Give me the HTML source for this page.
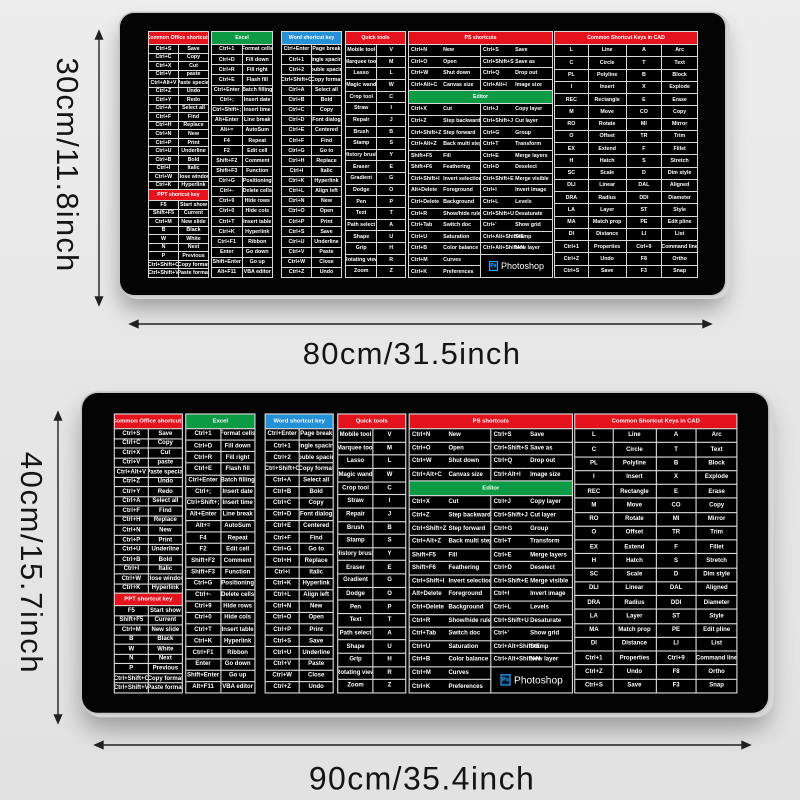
<!DOCTYPE html>
<html><head><meta charset="utf-8">
<style>
*{box-sizing:border-box}
body{margin:0;width:800px;height:800px;position:relative;overflow:hidden;background:linear-gradient(#ededed,#e6e6e6 50%,#e2e2e2);font-family:"Liberation Sans",sans-serif}
.pad{position:absolute;width:605px;height:282px;background:#040404;border-radius:14px;box-shadow:0 0 0 1.5px #c4c4c4,3px 2px 0 2px #d6d6d6,0 14px 22px rgba(0,0,0,.32)}
#p1{left:120px;top:13px}
#p2{left:82px;top:393px;transform:scale(1.134);transform-origin:0 0}
.g{position:absolute;top:18px;height:247px;display:grid;gap:1px;padding:1px;background:#d8d8d8}
.g>*{background:#000;color:#fff;font-size:5.3px;font-weight:bold;display:flex;align-items:center;justify-content:center;white-space:nowrap;overflow:hidden;line-height:1.2}
.g>.h{grid-column:1/-1;font-size:5.2px}
.g>.r{background:#e3121c}
.g>.gr{background:#0c9a45}
.g>.bl{background:#2390d8}
.g>.d{justify-content:flex-start;padding:0 2px}
.d span{display:inline-block}
.d span:first-child{width:48%;flex:none}
.s1{left:28px;width:61px;grid-template-columns:1fr 1fr;grid-template-rows:12px repeat(17,1fr) 10px repeat(9,1fr)}
.s2{left:91px;width:62px;grid-template-columns:1fr 1fr;grid-template-rows:12px repeat(23,1fr)}
.s3{left:161px;width:61px;grid-template-columns:1fr 1fr;grid-template-rows:12px repeat(23,1fr)}
.s4{left:225px;width:61px;grid-template-columns:32fr 29fr;grid-template-rows:12px repeat(20,1fr)}
.s5{left:288px;width:145px;grid-template-columns:1fr 1fr;grid-template-rows:12px repeat(4,1fr) 12px repeat(15,1fr)}
.s6{left:434px;width:144px;grid-template-columns:34fr 38fr 36fr 36fr;grid-template-rows:12px repeat(19,1fr)}
.g>.ps{grid-row:span 2;gap:3px}
.ps i{display:inline-flex;align-items:center;justify-content:center;width:9px;height:10px;border:1px solid #31a8ff;background:#001e36;color:#31a8ff;font-style:normal;font-size:5px}
.ps span{font-size:9px;font-weight:normal}
.lbl{position:absolute;color:#151515;font-size:31px;white-space:nowrap;transform:translate(-50%,-50%)}
.v{transform:translate(-50%,-50%) rotate(90deg)}
</style></head><body>

<svg width="800" height="800" style="position:absolute;left:0;top:0">
<g stroke="#222" stroke-width="1.4" fill="#222">
<line x1="136" y1="324" x2="706" y2="324"/><polygon points="130,324 138,320.5 138,327.5"/><polygon points="711,324 703,320.5 703,327.5"/>
<line x1="101" y1="745" x2="744" y2="745"/><polygon points="95,745 103,741.5 103,748.5"/><polygon points="750,745 742,741.5 742,748.5"/>
<line x1="99" y1="37" x2="99" y2="299"/><polygon points="99,31 95.5,39 102.5,39"/><polygon points="99,305 95.5,297 102.5,297"/>
<line x1="58" y1="418" x2="58" y2="717"/><polygon points="58,412 54.5,420 61.5,420"/><polygon points="58,723 54.5,715 61.5,715"/>
</g></svg>

<div class="lbl v" style="left:67px;top:165px;letter-spacing:1.2px">30cm/11.8inch</div>
<div class="lbl v" style="left:31px;top:563px;letter-spacing:1.6px">40cm/15.7inch</div>
<div class="lbl" style="left:412px;top:354px;letter-spacing:1.3px">80cm/31.5inch</div>
<div class="lbl" style="left:422px;top:779px;font-size:32px;letter-spacing:1.4px">90cm/35.4inch</div>

<div class="pad" id="p1">
<div class="g s1"><div class="h r">Common Office shortcuts</div>
<div>Ctrl+S</div><div>Save</div><div>Ctrl+C</div><div>Copy</div><div>Ctrl+X</div><div>Cut</div><div>Ctrl+V</div><div>paste</div><div>Ctrl+Alt+V</div><div>Paste special</div><div>Ctrl+Z</div><div>Undo</div><div>Ctrl+Y</div><div>Redo</div><div>Ctrl+A</div><div>Select all</div><div>Ctrl+F</div><div>Find</div><div>Ctrl+H</div><div>Replace</div><div>Ctrl+N</div><div>New</div><div>Ctrl+P</div><div>Print</div><div>Ctrl+U</div><div>Underline</div><div>Ctrl+B</div><div>Bold</div><div>Ctrl+I</div><div>Italic</div><div>Ctrl+W</div><div>Close window</div><div>Ctrl+K</div><div>Hyperlink</div>
<div class="h r">PPT shortcut key</div>
<div>F5</div><div>Start show</div><div>Shift+F5</div><div>Current</div><div>Ctrl+M</div><div>New slide</div><div>B</div><div>Black</div><div>W</div><div>White</div><div>N</div><div>Next</div><div>P</div><div>Previous</div><div>Ctrl+Shift+C</div><div>Copy format</div><div>Ctrl+Shift+V</div><div>Paste format</div>
</div>
<div class="g s2"><div class="h gr">Excel</div>
<div>Ctrl+1</div><div>Format cells</div><div>Ctrl+D</div><div>Fill down</div><div>Ctrl+R</div><div>Fill right</div><div>Ctrl+E</div><div>Flash fill</div><div>Ctrl+Enter</div><div>Batch filling</div><div>Ctrl+;</div><div>Insert date</div><div>Ctrl+Shift+;</div><div>Insert time</div><div>Alt+Enter</div><div>Line break</div><div>Alt+=</div><div>AutoSum</div><div>F4</div><div>Repeat</div><div>F2</div><div>Edit cell</div><div>Shift+F2</div><div>Comment</div><div>Shift+F3</div><div>Function</div><div>Ctrl+G</div><div>Positioning</div><div>Ctrl+-</div><div>Delete cells</div><div>Ctrl+9</div><div>Hide rows</div><div>Ctrl+0</div><div>Hide cols</div><div>Ctrl+T</div><div>Insert table</div><div>Ctrl+K</div><div>Hyperlink</div><div>Ctrl+F1</div><div>Ribbon</div><div>Enter</div><div>Go down</div><div>Shift+Enter</div><div>Go up</div><div>Alt+F11</div><div>VBA editor</div>
</div>
<div class="g s3"><div class="h bl">Word shortcut key</div>
<div>Ctrl+Enter</div><div>Page break</div><div>Ctrl+1</div><div>Single spacing</div><div>Ctrl+2</div><div>Double spacing</div><div>Ctrl+Shift+C</div><div>Copy format</div><div>Ctrl+A</div><div>Select all</div><div>Ctrl+B</div><div>Bold</div><div>Ctrl+C</div><div>Copy</div><div>Ctrl+D</div><div>Font dialog</div><div>Ctrl+E</div><div>Centered</div><div>Ctrl+F</div><div>Find</div><div>Ctrl+G</div><div>Go to</div><div>Ctrl+H</div><div>Replace</div><div>Ctrl+I</div><div>Italic</div><div>Ctrl+K</div><div>Hyperlink</div><div>Ctrl+L</div><div>Align left</div><div>Ctrl+N</div><div>New</div><div>Ctrl+O</div><div>Open</div><div>Ctrl+P</div><div>Print</div><div>Ctrl+S</div><div>Save</div><div>Ctrl+U</div><div>Underline</div><div>Ctrl+V</div><div>Paste</div><div>Ctrl+W</div><div>Close</div><div>Ctrl+Z</div><div>Undo</div>
</div>
<div class="g s4"><div class="h r">Quick tools</div>
<div>Mobile tool</div><div>V</div><div>Marquee tool</div><div>M</div><div>Lasso</div><div>L</div><div>Magic wand</div><div>W</div><div>Crop tool</div><div>C</div><div>Straw</div><div>I</div><div>Repair</div><div>J</div><div>Brush</div><div>B</div><div>Stamp</div><div>S</div><div>History brush</div><div>Y</div><div>Eraser</div><div>E</div><div>Gradient</div><div>G</div><div>Dodge</div><div>O</div><div>Pen</div><div>P</div><div>Text</div><div>T</div><div>Path select</div><div>A</div><div>Shape</div><div>U</div><div>Grip</div><div>H</div><div>Rotating view</div><div>R</div><div>Zoom</div><div>Z</div>
</div>
<div class="g s5"><div class="h r">PS shortcuts</div>
<div class="d"><span>Ctrl+N</span><span>New</span></div><div class="d"><span>Ctrl+S</span><span>Save</span></div>
<div class="d"><span>Ctrl+O</span><span>Open</span></div><div class="d"><span>Ctrl+Shift+S</span><span>Save as</span></div>
<div class="d"><span>Ctrl+W</span><span>Shut down</span></div><div class="d"><span>Ctrl+Q</span><span>Drop out</span></div>
<div class="d"><span>Ctrl+Alt+C</span><span>Canvas size</span></div><div class="d"><span>Ctrl+Alt+I</span><span>Image size</span></div>
<div class="h gr">Editor</div>
<div class="d"><span>Ctrl+X</span><span>Cut</span></div><div class="d"><span>Ctrl+J</span><span>Copy layer</span></div>
<div class="d"><span>Ctrl+Z</span><span>Step backward</span></div><div class="d"><span>Ctrl+Shift+J</span><span>Cut layer</span></div>
<div class="d"><span>Ctrl+Shift+Z</span><span>Step forward</span></div><div class="d"><span>Ctrl+G</span><span>Group</span></div>
<div class="d"><span>Ctrl+Alt+Z</span><span>Back multi step</span></div><div class="d"><span>Ctrl+T</span><span>Transform</span></div>
<div class="d"><span>Shift+F5</span><span>Fill</span></div><div class="d"><span>Ctrl+E</span><span>Merge layers</span></div>
<div class="d"><span>Shift+F6</span><span>Feathering</span></div><div class="d"><span>Ctrl+D</span><span>Deselect</span></div>
<div class="d"><span>Ctrl+Shift+I</span><span>Invert selection</span></div><div class="d"><span>Ctrl+Shift+E</span><span>Merge visible</span></div>
<div class="d"><span>Alt+Delete</span><span>Foreground</span></div><div class="d"><span>Ctrl+I</span><span>Invert image</span></div>
<div class="d"><span>Ctrl+Delete</span><span>Background</span></div><div class="d"><span>Ctrl+L</span><span>Levels</span></div>
<div class="d"><span>Ctrl+R</span><span>Show/hide ruler</span></div><div class="d"><span>Ctrl+Shift+U</span><span>Desaturate</span></div>
<div class="d"><span>Ctrl+Tab</span><span>Switch doc</span></div><div class="d"><span>Ctrl+'</span><span>Show grid</span></div>
<div class="d"><span>Ctrl+U</span><span>Saturation</span></div><div class="d"><span>Ctrl+Alt+Shift+E</span><span>Stamp</span></div>
<div class="d"><span>Ctrl+B</span><span>Color balance</span></div><div class="d"><span>Ctrl+Alt+Shift+N</span><span>New layer</span></div>
<div class="d"><span>Ctrl+M</span><span>Curves</span></div><div class="ps"><i>Ps</i><span>Photoshop</span></div>
<div class="d"><span>Ctrl+K</span><span>Preferences</span></div>
</div>
<div class="g s6"><div class="h r">Common Shortcut Keys in CAD</div>
<div>L</div><div>Line</div><div>A</div><div>Arc</div><div>C</div><div>Circle</div><div>T</div><div>Text</div><div>PL</div><div>Polyline</div><div>B</div><div>Block</div><div>I</div><div>Insert</div><div>X</div><div>Explode</div><div>REC</div><div>Rectangle</div><div>E</div><div>Erase</div><div>M</div><div>Move</div><div>CO</div><div>Copy</div><div>RO</div><div>Rotate</div><div>MI</div><div>Mirror</div><div>O</div><div>Offset</div><div>TR</div><div>Trim</div><div>EX</div><div>Extend</div><div>F</div><div>Fillet</div><div>H</div><div>Hatch</div><div>S</div><div>Stretch</div><div>SC</div><div>Scale</div><div>D</div><div>Dim style</div><div>DLI</div><div>Linear</div><div>DAL</div><div>Aligned</div><div>DRA</div><div>Radius</div><div>DDI</div><div>Diameter</div><div>LA</div><div>Layer</div><div>ST</div><div>Style</div><div>MA</div><div>Match prop</div><div>PE</div><div>Edit pline</div><div>DI</div><div>Distance</div><div>LI</div><div>List</div><div>Ctrl+1</div><div>Properties</div><div>Ctrl+9</div><div>Command line</div><div>Ctrl+Z</div><div>Undo</div><div>F8</div><div>Ortho</div><div>Ctrl+S</div><div>Save</div><div>F3</div><div>Snap</div>
</div>
</div>

<div class="pad" id="p2">
<div class="g s1"><div class="h r">Common Office shortcuts</div>
<div>Ctrl+S</div><div>Save</div><div>Ctrl+C</div><div>Copy</div><div>Ctrl+X</div><div>Cut</div><div>Ctrl+V</div><div>paste</div><div>Ctrl+Alt+V</div><div>Paste special</div><div>Ctrl+Z</div><div>Undo</div><div>Ctrl+Y</div><div>Redo</div><div>Ctrl+A</div><div>Select all</div><div>Ctrl+F</div><div>Find</div><div>Ctrl+H</div><div>Replace</div><div>Ctrl+N</div><div>New</div><div>Ctrl+P</div><div>Print</div><div>Ctrl+U</div><div>Underline</div><div>Ctrl+B</div><div>Bold</div><div>Ctrl+I</div><div>Italic</div><div>Ctrl+W</div><div>Close window</div><div>Ctrl+K</div><div>Hyperlink</div>
<div class="h r">PPT shortcut key</div>
<div>F5</div><div>Start show</div><div>Shift+F5</div><div>Current</div><div>Ctrl+M</div><div>New slide</div><div>B</div><div>Black</div><div>W</div><div>White</div><div>N</div><div>Next</div><div>P</div><div>Previous</div><div>Ctrl+Shift+C</div><div>Copy format</div><div>Ctrl+Shift+V</div><div>Paste format</div>
</div>
<div class="g s2"><div class="h gr">Excel</div>
<div>Ctrl+1</div><div>Format cells</div><div>Ctrl+D</div><div>Fill down</div><div>Ctrl+R</div><div>Fill right</div><div>Ctrl+E</div><div>Flash fill</div><div>Ctrl+Enter</div><div>Batch filling</div><div>Ctrl+;</div><div>Insert date</div><div>Ctrl+Shift+;</div><div>Insert time</div><div>Alt+Enter</div><div>Line break</div><div>Alt+=</div><div>AutoSum</div><div>F4</div><div>Repeat</div><div>F2</div><div>Edit cell</div><div>Shift+F2</div><div>Comment</div><div>Shift+F3</div><div>Function</div><div>Ctrl+G</div><div>Positioning</div><div>Ctrl+-</div><div>Delete cells</div><div>Ctrl+9</div><div>Hide rows</div><div>Ctrl+0</div><div>Hide cols</div><div>Ctrl+T</div><div>Insert table</div><div>Ctrl+K</div><div>Hyperlink</div><div>Ctrl+F1</div><div>Ribbon</div><div>Enter</div><div>Go down</div><div>Shift+Enter</div><div>Go up</div><div>Alt+F11</div><div>VBA editor</div>
</div>
<div class="g s3"><div class="h bl">Word shortcut key</div>
<div>Ctrl+Enter</div><div>Page break</div><div>Ctrl+1</div><div>Single spacing</div><div>Ctrl+2</div><div>Double spacing</div><div>Ctrl+Shift+C</div><div>Copy format</div><div>Ctrl+A</div><div>Select all</div><div>Ctrl+B</div><div>Bold</div><div>Ctrl+C</div><div>Copy</div><div>Ctrl+D</div><div>Font dialog</div><div>Ctrl+E</div><div>Centered</div><div>Ctrl+F</div><div>Find</div><div>Ctrl+G</div><div>Go to</div><div>Ctrl+H</div><div>Replace</div><div>Ctrl+I</div><div>Italic</div><div>Ctrl+K</div><div>Hyperlink</div><div>Ctrl+L</div><div>Align left</div><div>Ctrl+N</div><div>New</div><div>Ctrl+O</div><div>Open</div><div>Ctrl+P</div><div>Print</div><div>Ctrl+S</div><div>Save</div><div>Ctrl+U</div><div>Underline</div><div>Ctrl+V</div><div>Paste</div><div>Ctrl+W</div><div>Close</div><div>Ctrl+Z</div><div>Undo</div>
</div>
<div class="g s4"><div class="h r">Quick tools</div>
<div>Mobile tool</div><div>V</div><div>Marquee tool</div><div>M</div><div>Lasso</div><div>L</div><div>Magic wand</div><div>W</div><div>Crop tool</div><div>C</div><div>Straw</div><div>I</div><div>Repair</div><div>J</div><div>Brush</div><div>B</div><div>Stamp</div><div>S</div><div>History brush</div><div>Y</div><div>Eraser</div><div>E</div><div>Gradient</div><div>G</div><div>Dodge</div><div>O</div><div>Pen</div><div>P</div><div>Text</div><div>T</div><div>Path select</div><div>A</div><div>Shape</div><div>U</div><div>Grip</div><div>H</div><div>Rotating view</div><div>R</div><div>Zoom</div><div>Z</div>
</div>
<div class="g s5"><div class="h r">PS shortcuts</div>
<div class="d"><span>Ctrl+N</span><span>New</span></div><div class="d"><span>Ctrl+S</span><span>Save</span></div>
<div class="d"><span>Ctrl+O</span><span>Open</span></div><div class="d"><span>Ctrl+Shift+S</span><span>Save as</span></div>
<div class="d"><span>Ctrl+W</span><span>Shut down</span></div><div class="d"><span>Ctrl+Q</span><span>Drop out</span></div>
<div class="d"><span>Ctrl+Alt+C</span><span>Canvas size</span></div><div class="d"><span>Ctrl+Alt+I</span><span>Image size</span></div>
<div class="h gr">Editor</div>
<div class="d"><span>Ctrl+X</span><span>Cut</span></div><div class="d"><span>Ctrl+J</span><span>Copy layer</span></div>
<div class="d"><span>Ctrl+Z</span><span>Step backward</span></div><div class="d"><span>Ctrl+Shift+J</span><span>Cut layer</span></div>
<div class="d"><span>Ctrl+Shift+Z</span><span>Step forward</span></div><div class="d"><span>Ctrl+G</span><span>Group</span></div>
<div class="d"><span>Ctrl+Alt+Z</span><span>Back multi step</span></div><div class="d"><span>Ctrl+T</span><span>Transform</span></div>
<div class="d"><span>Shift+F5</span><span>Fill</span></div><div class="d"><span>Ctrl+E</span><span>Merge layers</span></div>
<div class="d"><span>Shift+F6</span><span>Feathering</span></div><div class="d"><span>Ctrl+D</span><span>Deselect</span></div>
<div class="d"><span>Ctrl+Shift+I</span><span>Invert selection</span></div><div class="d"><span>Ctrl+Shift+E</span><span>Merge visible</span></div>
<div class="d"><span>Alt+Delete</span><span>Foreground</span></div><div class="d"><span>Ctrl+I</span><span>Invert image</span></div>
<div class="d"><span>Ctrl+Delete</span><span>Background</span></div><div class="d"><span>Ctrl+L</span><span>Levels</span></div>
<div class="d"><span>Ctrl+R</span><span>Show/hide ruler</span></div><div class="d"><span>Ctrl+Shift+U</span><span>Desaturate</span></div>
<div class="d"><span>Ctrl+Tab</span><span>Switch doc</span></div><div class="d"><span>Ctrl+'</span><span>Show grid</span></div>
<div class="d"><span>Ctrl+U</span><span>Saturation</span></div><div class="d"><span>Ctrl+Alt+Shift+E</span><span>Stamp</span></div>
<div class="d"><span>Ctrl+B</span><span>Color balance</span></div><div class="d"><span>Ctrl+Alt+Shift+N</span><span>New layer</span></div>
<div class="d"><span>Ctrl+M</span><span>Curves</span></div><div class="ps"><i>Ps</i><span>Photoshop</span></div>
<div class="d"><span>Ctrl+K</span><span>Preferences</span></div>
</div>
<div class="g s6"><div class="h r">Common Shortcut Keys in CAD</div>
<div>L</div><div>Line</div><div>A</div><div>Arc</div><div>C</div><div>Circle</div><div>T</div><div>Text</div><div>PL</div><div>Polyline</div><div>B</div><div>Block</div><div>I</div><div>Insert</div><div>X</div><div>Explode</div><div>REC</div><div>Rectangle</div><div>E</div><div>Erase</div><div>M</div><div>Move</div><div>CO</div><div>Copy</div><div>RO</div><div>Rotate</div><div>MI</div><div>Mirror</div><div>O</div><div>Offset</div><div>TR</div><div>Trim</div><div>EX</div><div>Extend</div><div>F</div><div>Fillet</div><div>H</div><div>Hatch</div><div>S</div><div>Stretch</div><div>SC</div><div>Scale</div><div>D</div><div>Dim style</div><div>DLI</div><div>Linear</div><div>DAL</div><div>Aligned</div><div>DRA</div><div>Radius</div><div>DDI</div><div>Diameter</div><div>LA</div><div>Layer</div><div>ST</div><div>Style</div><div>MA</div><div>Match prop</div><div>PE</div><div>Edit pline</div><div>DI</div><div>Distance</div><div>LI</div><div>List</div><div>Ctrl+1</div><div>Properties</div><div>Ctrl+9</div><div>Command line</div><div>Ctrl+Z</div><div>Undo</div><div>F8</div><div>Ortho</div><div>Ctrl+S</div><div>Save</div><div>F3</div><div>Snap</div>
</div>
</div>

</body></html>
